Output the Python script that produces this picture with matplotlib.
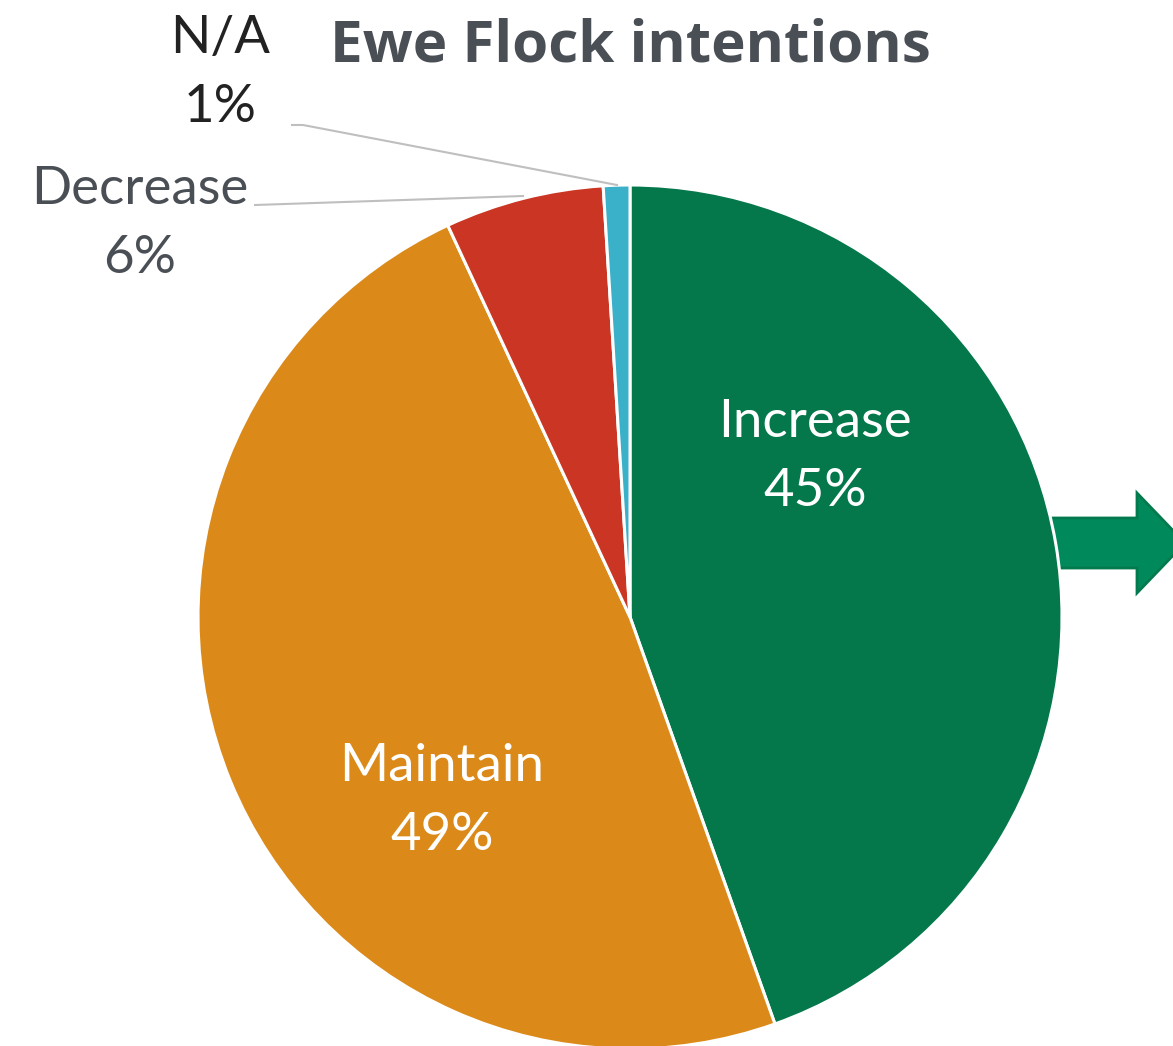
import matplotlib.pyplot as plt
import matplotlib.patches as mpatches

categories = ["Increase", "Maintain", "Decrease", "N/A"]
values = [45, 49, 6, 1]
colors = ["#04774B", "#DB8A1A", "#CB3523", "#3BB0C9"]

W, H = 1173, 1046
fig = plt.figure(figsize=(W / 100, H / 100), dpi=100)
ax = fig.add_axes([0, 0, 1, 1])

# arrow pointing out of the pie on the right
arrow = mpatches.FancyArrow(1050, H - 543, 135, 0, width=50, head_width=100,
                            head_length=48, length_includes_head=True,
                            facecolor="#008A5C", edgecolor="#037A4E", linewidth=2, zorder=1)
ax.add_patch(arrow)

wedges, _ = ax.pie(values, colors=colors, startangle=90, counterclock=False,
                   center=(630, H - 617), radius=432,
                   wedgeprops=dict(edgecolor="white", linewidth=2.2), frame=True)
for w in wedges:
    w.set_zorder(2)
ax.set_xlim(0, W)
ax.set_ylim(0, H)
ax.set_aspect("equal")
ax.axis("off")

font = "Lato"
fs = 38
ls = 1.6
lbl = [f"{c}\n{v}%" for c, v in zip(categories, values)]

# labels inside the two big slices
ax.text(815, H - 457, lbl[0], color="white", fontsize=fs, family=font,
        ha="center", va="center", linespacing=ls, zorder=3)
ax.text(442, H - 801, lbl[1], color="white", fontsize=fs, family=font,
        ha="center", va="center", linespacing=ls, zorder=3)

# outside labels with leader lines
ax.text(140, H - 224, lbl[2], color="#4A4F55", fontsize=fs, family=font,
        ha="center", va="center", linespacing=ls, zorder=3)
ax.text(220, H - 73, lbl[3], color="#222222", fontsize=fs, family=font,
        ha="center", va="center", linespacing=ls, zorder=3)
ax.plot([255, 523], [H - 205, H - 196], color="#BFBFBF", lw=1.5, zorder=3)
ax.plot([292, 303, 617], [H - 125, H - 125, H - 185], color="#BFBFBF", lw=1.5, zorder=3)

ax.text(630, H - 47, "Ewe Flock intentions", color="#4A4F55", fontsize=42,
        family="Open Sans", fontweight="bold", ha="center", va="center")

fig.savefig("out.png", dpi=100)
